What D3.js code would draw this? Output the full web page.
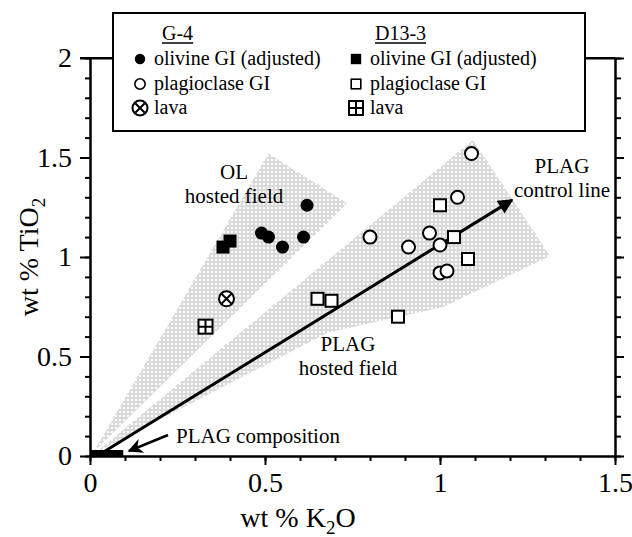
<!DOCTYPE html>
<html>
<head>
<meta charset="utf-8">
<script src="https://cdn.jsdelivr.net/npm/d3@7"></script>
<style>
  body { margin: 0; background: #fff; }
  svg { display: block; font-family: "Liberation Serif", "Times New Roman", serif; }
</style>
</head>
<body>
<svg id="chart" width="632" height="537"></svg>
<script>
// data (wt % K2O, wt % TiO2)
var g4Olivine = [[0.62, 1.26], [0.49, 1.12], [0.51, 1.10], [0.55, 1.05], [0.61, 1.10]];
var g4Plag = [[1.09, 1.52], [1.05, 1.30], [0.80, 1.10], [0.91, 1.05], [0.97, 1.12], [1.00, 1.06], [1.00, 0.92], [1.02, 0.93]];
var g4Lava = [[0.39, 0.79]];
var d13Olivine = [[0.38, 1.05], [0.40, 1.08]];
var d13Plag = [[0.65, 0.79], [0.69, 0.78], [1.00, 1.26], [1.04, 1.10], [1.08, 0.99], [0.88, 0.70]];
var d13Lava = [[0.33, 0.65]];

// shaded fields and lines
var olField = [[0.01, 0.02], [0.51, 1.52], [0.734, 1.27]];
var plagField = [[0.015, 0.015], [1.094, 1.588], [1.314, 1.005], [1.009, 0.749], [0.68, 0.62]];
var plagControl = [[0.034, 0.015], [1.206, 1.286]];
var plagComp = [0, 0.095, 0.03];

var xMajor = [0, 0.5, 1, 1.5];
var yMajor = [0, 0.5, 1, 1.5, 2];
var xMinor = d3.range(0, 1.501, 0.1);
var yMinor = d3.range(0, 2.001, 0.1);

var svg = d3.select("#chart");

var x = d3.scaleLinear().domain([0, 1.5]).range([90, 615]);
var y = d3.scaleLinear().domain([0, 2]).range([456, 58]);

var defs = svg.append("defs");
var pat = defs.append("pattern")
    .attr("id", "stip")
    .attr("patternUnits", "userSpaceOnUse")
    .attr("width", 4).attr("height", 4);
pat.append("circle")
    .attr("cx", 2).attr("cy", 2).attr("r", 1.3)
    .attr("fill", "none").attr("stroke", "#9a9a9a").attr("stroke-width", 0.6);

defs.append("marker")
    .attr("id", "arrowHead")
    .attr("viewBox", "0 0 10 10")
    .attr("refX", 9).attr("refY", 5)
    .attr("markerWidth", 6).attr("markerHeight", 5)
    .attr("markerUnits", "strokeWidth")
    .attr("orient", "auto")
  .append("path")
    .attr("d", "M0,0L10,5L0,10Z")
    .attr("fill", "#000");

defs.append("marker")
    .attr("id", "smallHead")
    .attr("viewBox", "0 0 10 10")
    .attr("refX", 9).attr("refY", 5)
    .attr("markerWidth", 7).attr("markerHeight", 6)
    .attr("markerUnits", "strokeWidth")
    .attr("orient", "auto")
  .append("path")
    .attr("d", "M0,0L10,5L0,10L3,5Z")
    .attr("fill", "#000");

var line = d3.line().x(function(d) { return x(d[0]); }).y(function(d) { return y(d[1]); });

// fields
svg.append("path").datum(olField).attr("d", line.curve(d3.curveLinearClosed)).attr("fill", "url(#stip)");
svg.append("path").datum(plagField).attr("d", line).attr("fill", "url(#stip)");
line.curve(d3.curveLinear);

// axes
function tickAxis(axisFn, scale, values, size, withLabels) {
  var a = axisFn(scale).tickValues(values).tickSizeInner(size).tickSizeOuter(0);
  if (withLabels) a.tickFormat(d3.format("~g")).tickPadding(6);
  else a.tickFormat("");
  return a;
}

var gB = svg.append("g").attr("transform", "translate(0," + y(0) + ")");
gB.call(tickAxis(d3.axisBottom, x, xMinor, 5, false));
var gB2 = svg.append("g").attr("transform", "translate(0," + y(0) + ")");
gB2.call(tickAxis(d3.axisBottom, x, xMajor, 9, true));

var gL = svg.append("g").attr("transform", "translate(" + x(0) + ",0)");
gL.call(tickAxis(d3.axisLeft, y, yMinor, 5, false));
var gL2 = svg.append("g").attr("transform", "translate(" + x(0) + ",0)");
gL2.call(tickAxis(d3.axisLeft, y, yMajor, 10, true));

var gR = svg.append("g").attr("transform", "translate(" + x(1.5) + ",0)");
gR.call(tickAxis(d3.axisRight, y, yMinor, 6, false));
var gR2 = svg.append("g").attr("transform", "translate(" + x(1.5) + ",0)");
gR2.call(tickAxis(d3.axisRight, y, yMajor, 9, false));

var gT = svg.append("g").attr("transform", "translate(0," + y(2) + ")");
gT.call(d3.axisTop(x).tickValues([]).tickSizeOuter(0));

svg.selectAll(".domain, .tick line").attr("stroke", "#000").attr("stroke-width", 2);
svg.selectAll(".tick text")
    .attr("font-family", "Liberation Serif")
    .attr("font-size", 28)
    .attr("fill", "#000");
gB2.selectAll(".tick text").attr("dy", "0.75em");
gL2.selectAll(".tick text").attr("dx", "-2");

// extend the y=2 tick into the frame corner
svg.append("line")
    .attr("x1", x(0) - 10).attr("x2", x(1.5))
    .attr("y1", y(2)).attr("y2", y(2))
    .attr("stroke", "#000").attr("stroke-width", 2);

// axis titles
var xt = svg.append("text")
    .attr("x", 298).attr("y", 527)
    .attr("text-anchor", "middle")
    .attr("font-size", 28);
xt.append("tspan").text("wt % K");
xt.append("tspan").attr("font-size", 19).attr("dy", 7).text("2");
xt.append("tspan").attr("dy", -7).text("O");

var yt = svg.append("text")
    .attr("transform", "translate(38,257) rotate(-90)")
    .attr("text-anchor", "middle")
    .attr("font-size", 28);
yt.append("tspan").text("wt % TiO");
yt.append("tspan").attr("font-size", 19).attr("dy", 7).text("2");

// PLAG composition bar
svg.append("rect")
    .attr("x", x(plagComp[0])).attr("y", y(plagComp[2]))
    .attr("width", x(plagComp[1]) - x(plagComp[0]))
    .attr("height", y(0) - y(plagComp[2]))
    .attr("fill", "#000");

// control line
svg.append("path").datum(plagControl)
    .attr("d", line)
    .attr("fill", "none").attr("stroke", "#000").attr("stroke-width", 3)
    .attr("marker-end", "url(#arrowHead)");

// arrow to PLAG composition
svg.append("line")
    .attr("x1", 168).attr("y1", 435).attr("x2", 129).attr("y2", 451)
    .attr("stroke", "#000").attr("stroke-width", 2.5)
    .attr("marker-end", "url(#smallHead)");

// markers
function drawMarker(g, type, cx, cy) {
  var s = 6.5;
  if (type == "fcircle") {
    g.append("circle").attr("cx", cx).attr("cy", cy).attr("r", s).attr("fill", "#000");
  } else if (type == "ocircle") {
    g.append("circle").attr("cx", cx).attr("cy", cy).attr("r", s).attr("fill", "#fff").attr("stroke", "#000").attr("stroke-width", 2);
  } else if (type == "xcircle") {
    g.append("circle").attr("cx", cx).attr("cy", cy).attr("r", 7.5).attr("fill", "#fff").attr("stroke", "#000").attr("stroke-width", 2);
    var k = 5;
    g.append("path").attr("d", "M" + (cx - k) + "," + (cy - k) + "L" + (cx + k) + "," + (cy + k) + "M" + (cx - k) + "," + (cy + k) + "L" + (cx + k) + "," + (cy - k))
        .attr("stroke", "#000").attr("stroke-width", 2);
  } else if (type == "fsquare") {
    g.append("rect").attr("x", cx - s).attr("y", cy - s).attr("width", 2 * s).attr("height", 2 * s).attr("fill", "#000");
  } else if (type == "osquare") {
    g.append("rect").attr("x", cx - 6).attr("y", cy - 6).attr("width", 12).attr("height", 12).attr("fill", "#fff").attr("stroke", "#000").attr("stroke-width", 2);
  } else if (type == "psquare") {
    g.append("rect").attr("x", cx - 7).attr("y", cy - 7).attr("width", 14).attr("height", 14).attr("fill", "#fff").attr("stroke", "#000").attr("stroke-width", 2);
    g.append("path").attr("d", "M" + cx + "," + (cy - 7) + "V" + (cy + 7) + "M" + (cx - 7) + "," + cy + "H" + (cx + 7))
        .attr("stroke", "#000").attr("stroke-width", 2);
  }
}

var series = [
  [d13Plag, "osquare"], [g4Plag, "ocircle"], [g4Olivine, "fcircle"],
  [d13Olivine, "fsquare"], [g4Lava, "xcircle"], [d13Lava, "psquare"]
];
var gPts = svg.append("g");
series.forEach(function(s) {
  s[0].forEach(function(d) { drawMarker(gPts, s[1], x(d[0]), y(d[1])); });
});

// annotations
function label(lines, cx, y0, dy) {
  lines.forEach(function(t, i) {
    svg.append("text").attr("x", cx).attr("y", y0 + i * dy)
        .attr("text-anchor", "middle").attr("font-size", 21).text(t);
  });
}
label(["OL", "hosted field"], 234, 179, 24);
label(["PLAG", "control line"], 562, 173, 24);
label(["PLAG", "hosted field"], 348, 351, 24);
svg.append("text").attr("x", 176).attr("y", 443).attr("font-size", 21).text("PLAG composition");

// legend
var lg = svg.append("g");
lg.append("rect")
    .attr("x", 113).attr("y", 13).attr("width", 472).attr("height", 118)
    .attr("fill", "#fff").attr("stroke", "#000").attr("stroke-width", 2);

var legendCols = [
  { title: "G-4", tx: 162, mx: 140, items: ["fcircle", "ocircle", "xcircle"] },
  { title: "D13-3", tx: 375, mx: 356, items: ["fsquare", "osquare", "psquare"] }
];
var legendNames = ["olivine GI (adjusted)", "plagioclase GI", "lava"];
var legendRows = [59, 84, 108];

legendCols.forEach(function(c) {
  var t = lg.append("text").attr("x", c.tx).attr("y", 40).attr("font-size", 20).text(c.title);
  var w = t.node().getComputedTextLength();
  lg.append("line").attr("x1", c.tx).attr("x2", c.tx + w).attr("y1", 43).attr("y2", 43)
      .attr("stroke", "#000").attr("stroke-width", 1.5);
  c.items.forEach(function(type, i) {
    var sm = (type == "fcircle" || type == "ocircle" || type == "fsquare" || type == "osquare");
    var g = lg.append("g");
    if (sm) {
      g.attr("transform", "translate(" + c.mx + "," + legendRows[i] + ") scale(0.8) translate(" + (-c.mx) + "," + (-legendRows[i]) + ")");
    }
    drawMarker(g, type, c.mx, legendRows[i]);
    lg.append("text").attr("x", c.mx + 14).attr("y", legendRows[i] + 6).attr("font-size", 20).text(legendNames[i]);
  });
});
</script>
</body>
</html>
